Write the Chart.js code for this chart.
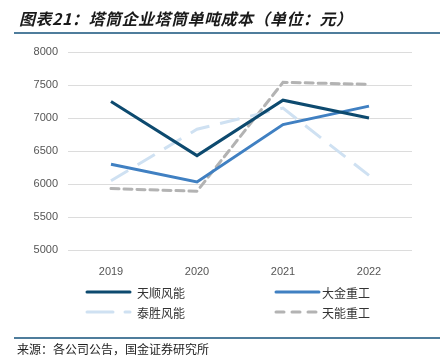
<!DOCTYPE html>
<html><head><meta charset="utf-8">
<script src="https://cdn.jsdelivr.net/npm/chart.js@4.4.1/dist/chart.umd.min.js"></script>
<style>
html,body{margin:0;padding:0;background:#fff;}
#wrap{position:relative;width:448px;height:356px;overflow:hidden;}
#title{position:absolute;left:19px;top:6px;font:italic bold 16px "Noto Sans CJK SC",sans-serif;color:#1a1a1a;white-space:nowrap;letter-spacing:0.5px;}
#tline{position:absolute;left:14px;top:32px;width:426px;height:2px;background:#4f7d9c;}
#fline{position:absolute;left:14px;top:337px;width:426px;height:2px;background:#4f7d9c;}
#foot{position:absolute;left:17px;top:340px;font:12px "Noto Sans CJK SC",sans-serif;color:#222;white-space:nowrap;}
canvas{position:absolute;left:0;top:0;}
</style></head>
<body><div id="wrap">
<canvas id="c" width="448" height="356"></canvas>
<div id="title">图表21：塔筒企业塔筒单吨成本（单位：元）</div>
<div id="tline"></div>
<div id="fline"></div>
<div id="foot">来源：各公司公告，国金证券研究所</div>
</div>
<script>
const years = ['2019','2020','2021','2022'];
const tianshun = [7250, 6430, 7270, 7000];
const dajin = [6300, 6030, 6900, 7180];
const taisheng = [6050, 6830, 7150, 6130];
const tianneng = [5930, 5890, 7540, 7510];
const names = ['天顺风能','大金重工','泰胜风能','天能重工'];

const legendPlugin = {
  id:'customLegend',
  afterDraw(chart){
    const ctx = chart.ctx;
    const pos = [[87,292],[276,292],[87,312],[276,312]];
    chart.data.datasets.forEach((ds,i)=>{
      const [x,y] = pos[i];
      ctx.save();
      ctx.strokeStyle = ds.borderColor;
      ctx.lineWidth = ds.borderWidth;
      ctx.lineCap = 'round';
      ctx.setLineDash(ds.legendDash || []);
      ctx.beginPath(); ctx.moveTo(x,y); ctx.lineTo(x+43,y); ctx.stroke();
      ctx.setLineDash([]);
      ctx.fillStyle = '#333';
      ctx.font = '12px "Noto Sans CJK SC", sans-serif';
      ctx.textBaseline = 'middle';
      ctx.fillText(ds.label, x+ (i%2===0?50:46), y+1);
      ctx.restore();
    });
  }
};

new Chart(document.getElementById('c'), {
  type:'line',
  data:{
    labels: years,
    datasets:[
      {label:names[0], data:tianshun, borderColor:'#0d4a6f', borderWidth:3, pointRadius:0, tension:0},
      {label:names[1], data:dajin, borderColor:'#4080c2', borderWidth:3, pointRadius:0, tension:0},
      {label:names[2], data:taisheng, borderColor:'#cfe1f2', borderWidth:3, borderDash:[20,11], legendDash:[26,12], pointRadius:0, tension:0},
      {label:names[3], data:tianneng, borderColor:'#b3b3b3', borderWidth:3, borderDash:[8,5], borderCapStyle:'round', legendDash:[8,8], pointRadius:0, tension:0}
    ]
  },
  options:{
    responsive:false, animation:false,
    layout:{padding:{left:0,right:36,top:52,bottom:0}},
    plugins:{legend:{display:false}, tooltip:{enabled:false}, title:{display:false}},
    scales:{
      x:{
        offset:true,
        grid:{display:false},
        border:{display:false},
        ticks:{color:'#555', font:{family:'"Liberation Sans", Arial, sans-serif', size:11}, padding:7},
        afterFit(s){ s.height = 106; }
      },
      y:{
        min:5000, max:8000,
        ticks:{stepSize:500, color:'#555', font:{family:'"Liberation Sans", Arial, sans-serif', size:11}, padding:10, callback:(v)=>String(v)},
        grid:{color:'#dcdcdc', lineWidth:1, drawTicks:false},
        border:{display:false},
        afterFit(s){ s.width = 68; }
      }
    }
  },
  plugins:[legendPlugin]
});
</script>
</body></html>
